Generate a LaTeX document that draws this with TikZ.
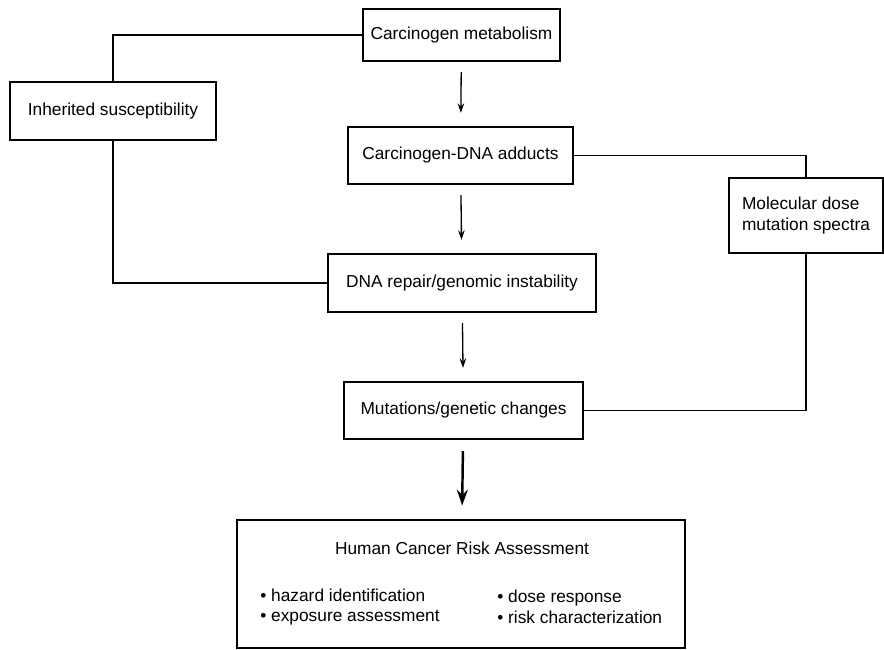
\documentclass[tikz,border=0pt]{standalone}
\usepackage{fontspec}
\setmainfont{Liberation Sans}
\usetikzlibrary{arrows.meta}

\begin{document}
\begin{tikzpicture}
    [BoxNode/.style={rectangle, draw=black, line width=1.3pt, inner sep=0pt, font=\fontsize{9.85}{11.9}\selectfont},
    TextNode/.style={inner sep=0pt, font=\fontsize{9.85}{11.9}\selectfont},
    StepArrow/.style={-{Stealth[length=1.9mm, width=1.3mm]}, line width=0.75pt, shorten <=0.2cm, shorten >=0.26cm},
    LinkLine/.style={line width=1pt}]
     \useasboundingbox (0, 0) rectangle (17.68, 13);
     \node[BoxNode, minimum width=3.94cm, minimum height=1.04cm] (n0) at (9.23, 12.30){Carcinogen metabolism};
     \node[BoxNode, minimum width=4.12cm, minimum height=1.16cm] (n1) at (2.26, 10.78){Inherited susceptibility};
     \node[BoxNode, minimum width=4.50cm, minimum height=1.14cm] (n2) at (9.21, 9.89){Carcinogen-DNA adducts};
     \node[BoxNode, minimum width=3.08cm, minimum height=1.50cm, align=left] (n3) at (16.12, 8.69){Molecular dose\\mutation spectra};
     \node[BoxNode, minimum width=5.36cm, minimum height=1.16cm] (n4) at (9.24, 7.34){DNA repair/genomic instability};
     \node[BoxNode, minimum width=4.78cm, minimum height=1.14cm] (n5) at (9.27, 4.79){Mutations/genetic changes};
     \node[BoxNode, line width=1.5pt, minimum width=8.96cm, minimum height=2.56cm] (n6) at (9.22, 1.32){};
     \node[TextNode] (TitleLabel) at (9.24, 2.04){Human Cancer Risk Assessment};
     \node[TextNode, anchor=west, align=left] (LeftLabel) at (5.20, 0.86){\textbullet\ hazard identification\\\textbullet\ exposure assessment};
     \node[TextNode, anchor=west, align=left] (RightLabel) at (9.94, 0.86){\textbullet\ dose response\\\textbullet\ risk characterization};
     \draw[LinkLine] (n0.west) -| (n1.north);
     \draw[LinkLine] (n1.south) |- (n4.west);
     \draw[LinkLine] (n2.east) -| (n3.north);
     \draw[LinkLine] (n3.south) |- (n5.east);
     \draw[StepArrow] (n0) -- (n2);
     \draw[StepArrow] (n2) -- (n4);
     \draw[StepArrow] (n4) -- (n5);
     \draw[-{Stealth[length=3.2mm, width=2.2mm]}, line width=1.4pt, shorten <=0.22cm, shorten >=0.26cm] (n5) -- (n6);
\end{tikzpicture}
\end{document}
